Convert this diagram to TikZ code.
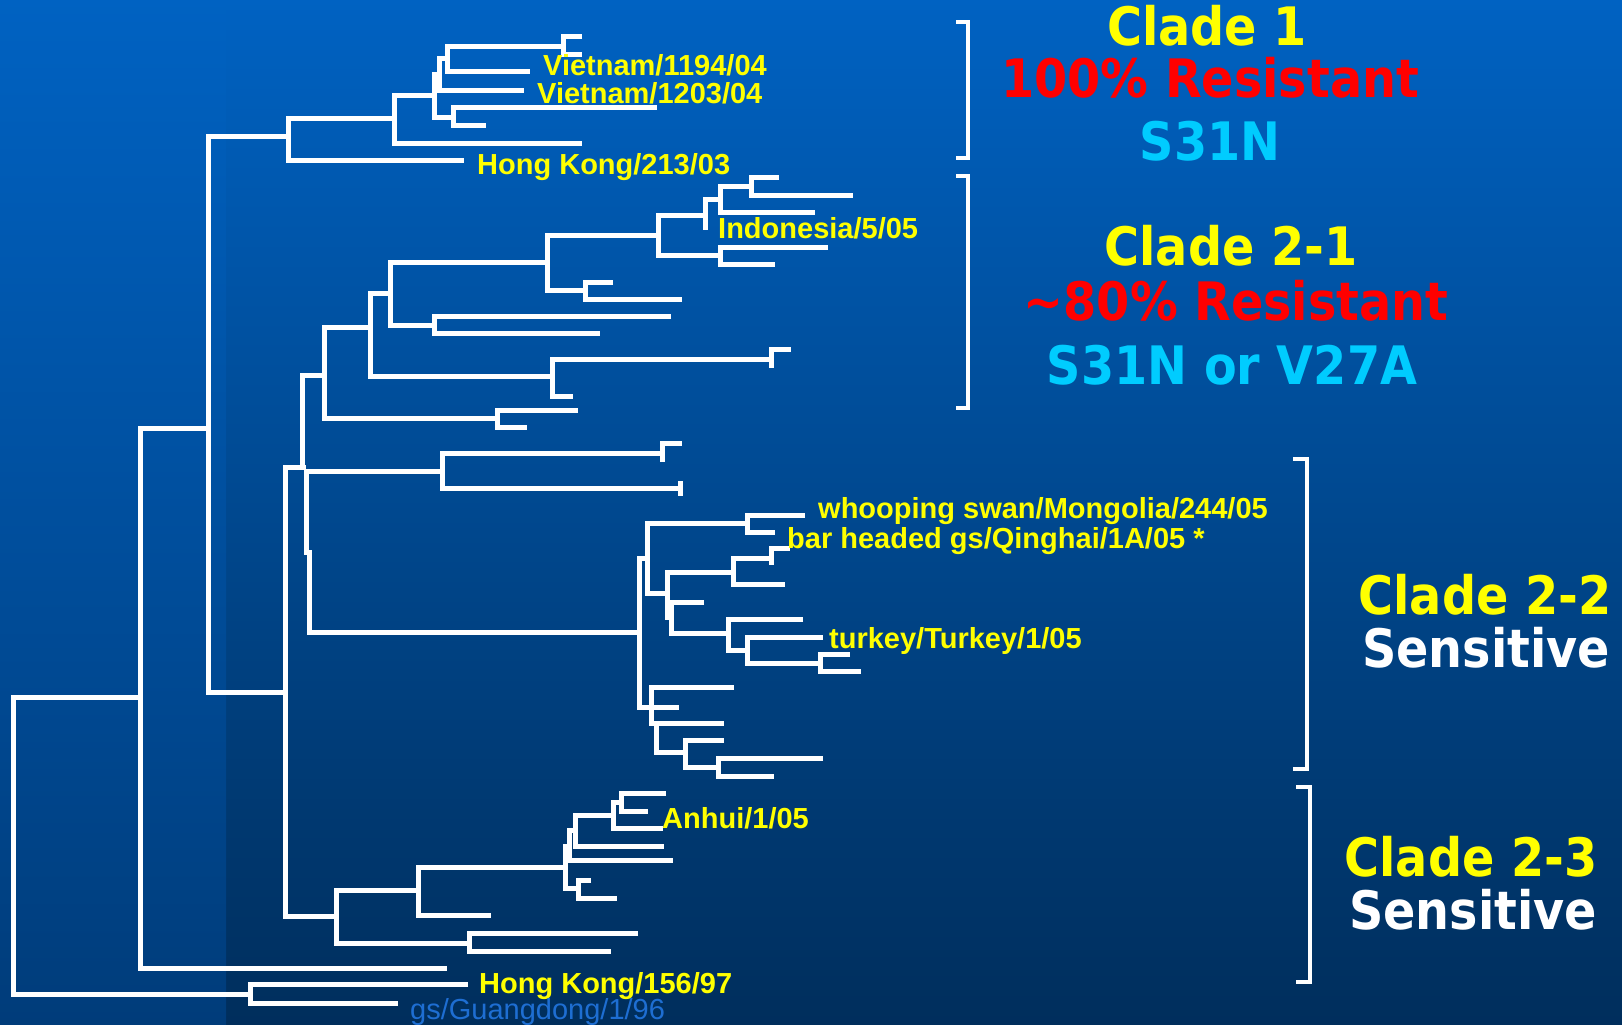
\documentclass[tikz,border=0pt]{standalone}
\usepackage{fontspec}
\newfontfamily\labfont{Liberation Sans}
\newfontfamily\cladefont{DejaVu Sans}[FakeStretch=0.9]
\definecolor{bgtop}{RGB}{0,98,194}
\definecolor{bgbot}{RGB}{0,46,92}
\definecolor{stripbot}{RGB}{0,60,122}
\definecolor{labyellow}{RGB}{255,255,0}
\definecolor{resred}{RGB}{255,0,0}
\definecolor{mutcyan}{RGB}{0,204,255}
\definecolor{gsblue}{RGB}{30,110,210}
\tikzset{
  branch/.style={draw=white, line width=5pt, line join=miter},
  cladebracket/.style={draw=white, line width=4.5pt, line join=miter},
  leaflabel/.style={anchor=base west, inner sep=0pt, text depth=0pt, text=labyellow, font=\labfont\bfseries\fontsize{29}{29}\selectfont},
  cladetitle/.style={anchor=base, inner sep=0pt, font=\cladefont\bfseries\fontsize{53}{53}\selectfont},
}
\newcommand\br[5]{\draw[branch] (#4,#2) -- (#1,#2) -- (#1,#3) -- (#5,#3);}
\begin{document}
\begin{tikzpicture}[x=1pt,y=-1pt]
\useasboundingbox (0,0) rectangle (1622,1025);
\clip (0,0) rectangle (1622,1025);
\shade[top color=bgtop, bottom color=bgbot] (0,0) rectangle (1622,1025);
\shade[top color=bgtop, bottom color=stripbot] (0,0) rectangle (226,1025);

% root and backbone
\br{13}{697}{994}{140}{250}
\br{250}{984}{1003}{468}{398}
\br{140}{428}{968}{208}{447}
\br{208}{136}{692}{288}{285}

% clade 1
\br{288}{118}{160}{394}{464}
\br{394}{95}{143}{434}{582}
\br{434}{75}{117}{439}{453}
\br{439}{59}{90}{447}{524}
\br{447}{47}{72}{563}{530}
\br{563}{37}{55}{582}{582}
\br{453}{107}{125}{657}{486}

% clade 2 backbone
\br{285}{467}{916}{306}{336}
\draw[branch] (324,375) -- (302,375) -- (302,467);
\draw[branch] (442,471) -- (306,471) -- (306,552) -- (309,552) -- (309,632) -- (640,632);
\br{442}{453}{488}{662}{680}
\draw[branch] (662,462) -- (662,443) -- (682,443);
\draw[branch] (680,481) -- (680,496);

% clade 2-1
\br{324}{327}{418}{370}{497}
\br{370}{293}{376}{390}{552}
\br{390}{262}{325}{547}{434}
\br{547}{235}{290}{658}{585}
\br{658}{215}{255}{705}{720}
\draw[branch] (720,199) -- (705,199) -- (705,230);
\br{720}{186}{212}{751}{815}
\br{751}{177}{195}{779}{853}
\br{720}{247}{264}{828}{775}
\br{585}{282}{299}{613}{682}
\br{434}{316}{333}{671}{600}
\br{552}{359}{396}{771}{573}
\draw[branch] (771,368) -- (771,349) -- (791,349);
\br{497}{410}{427}{578}{527}

% clade 2-2
\br{639}{558}{707}{647}{679}
\br{647}{523}{593}{747}{667}
\br{747}{515}{532}{805}{775}
\br{667}{572}{617}{733}{671}
\br{733}{558}{584}{771}{785}
\draw[branch] (771,565) -- (771,548) -- (790,548);
\br{671}{602}{633}{704}{728}
\br{728}{619}{650}{803}{747}
\br{747}{637}{663}{823}{820}
\br{820}{654}{671}{850}{861}
\draw[branch] (734,687) -- (651,687) -- (651,723) -- (656,723) -- (656,752) -- (685,752);
\draw[branch] (656,723) -- (724,723);
\br{685}{740}{767}{724}{718}
\br{718}{758}{776}{823}{774}

% clade 2-3
\br{336}{890}{943}{418}{469}
\br{418}{867}{915}{565}{491}
\br{565}{846}{888}{569}{578}
\br{569}{830}{860}{575}{673}
\br{575}{815}{846}{613}{664}
\br{613}{802}{828}{621}{663}
\br{621}{793}{811}{666}{648}
\br{578}{880}{898}{591}{617}
\br{469}{933}{951}{638}{611}

% clade brackets
\draw[cladebracket] (956,22) -- (968,22) -- (968,158) -- (956,158);
\draw[cladebracket] (956,176) -- (968,176) -- (968,408) -- (956,408);
\draw[cladebracket] (1293,459) -- (1307,459) -- (1307,769) -- (1293,769);
\draw[cladebracket] (1296,787) -- (1310,787) -- (1310,982) -- (1296,982);

% leaf labels
\node[leaflabel] (v1194) at (543,76) {Vietnam/1194/04};
\node[leaflabel] (v1203) at (537,103) {Vietnam/1203/04};
\node[leaflabel] (hk213) at (477,174) {Hong Kong/213/03};
\node[leaflabel] (indo) at (718,238) {Indonesia/5/05};
\node[leaflabel] (swan) at (818,518) {whooping swan/Mongolia/244/05};
\node[leaflabel] (qinghai) at (787,548) {bar headed gs/Qinghai/1A/05 *};
\node[leaflabel] (turkey) at (829,648) {turkey/Turkey/1/05};
\node[leaflabel] (anhui) at (662,828) {Anhui/1/05};
\node[leaflabel] (hk156) at (479,993) {Hong Kong/156/97};
\node[leaflabel, text=gsblue, font=\labfont\fontsize{29}{29}\selectfont] (gs) at (410,1019) {gs/Guangdong/1/96};

% clade titles
\node[cladetitle, text=labyellow] (c1) at (1207,46) {Clade 1};
\node[cladetitle, text=resred] (c1r) at (1210,97) {100\% Resistant};
\node[cladetitle, text=mutcyan] (c1m) at (1210,160) {S31N};
\node[cladetitle, text=labyellow] (c21) at (1231,265) {Clade 2-1};
\node[cladetitle, text=resred] (c21r) at (1236,320) {\textasciitilde80\% Resistant};
\node[cladetitle, text=mutcyan] (c21m) at (1232,384) {S31N or V27A};
\node[cladetitle, text=labyellow] (c22) at (1485,614) {Clade 2-2};
\node[cladetitle, text=white] (c22s) at (1486,667) {Sensitive};
\node[cladetitle, text=labyellow] (c23) at (1471,876) {Clade 2-3};
\node[cladetitle, text=white] (c23s) at (1473,929) {Sensitive};
\end{tikzpicture}
\end{document}
